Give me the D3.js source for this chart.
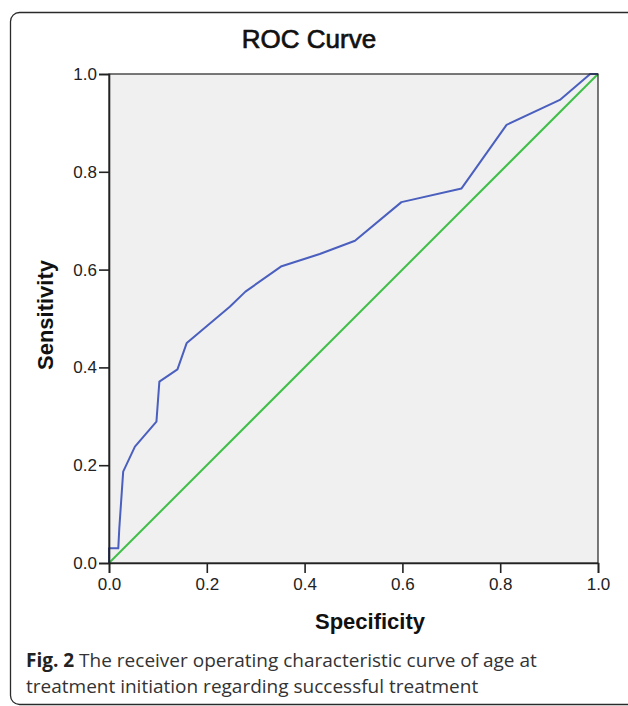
<!DOCTYPE html>
<html>
<head>
<meta charset="utf-8">
<script src="https://cdn.jsdelivr.net/npm/d3@7/dist/d3.min.js"></script>
<style>
  html, body { margin: 0; padding: 0; background: #fff; }
  svg { display: block; }
</style>
</head>
<body>
<svg id="chart" width="628" height="706"></svg>
<script>
// ---- data ----
const title = "ROC Curve";
const xLabel = "Specificity";
const yLabel = "Sensitivity";
const captionBold = "Fig. 2";
const captionLines = [
  " The receiver operating characteristic curve of age at",
  "treatment initiation regarding successful treatment"
];
const tickValues = [0, 0.2, 0.4, 0.6, 0.8, 1.0];
const rocX = [0, 0, 0.019, 0.021, 0.029, 0.053, 0.097, 0.103, 0.140, 0.159, 0.247, 0.279, 0.353, 0.431, 0.503, 0.598, 0.721, 0.813, 0.922, 0.984, 1];
const rocY = [0, 0.030, 0.030, 0.07, 0.187, 0.238, 0.289, 0.371, 0.396, 0.450, 0.524, 0.555, 0.607, 0.632, 0.659, 0.738, 0.766, 0.896, 0.947, 1.0, 1.0];
const refX = [0, 1];
const refY = [0, 1];

// ---- layout ----
const svg = d3.select("#chart");
const pL = 109, pR = 598, pT = 74, pB = 563;
const x = d3.scaleLinear().domain([0, 1]).range([pL, pR]);
const y = d3.scaleLinear().domain([0, 1]).range([pB, pT]);

// outer frame
svg.append("rect")
  .attr("x", 10.5).attr("y", 12.5)
  .attr("width", 640).attr("height", 692)
  .attr("rx", 9).attr("ry", 9)
  .attr("fill", "none").attr("stroke", "#2a2a2a").attr("stroke-width", 1.3);

// plot background
svg.append("rect")
  .attr("x", pL).attr("y", pT)
  .attr("width", pR - pL).attr("height", pB - pT)
  .attr("fill", "#f0f0f0");

// title
svg.append("text")
  .attr("x", 309).attr("y", 48)
  .attr("text-anchor", "middle")
  .attr("font-family", "Liberation Sans, Arial, sans-serif")
  .attr("font-size", 26).attr("font-weight", "normal")
  .attr("fill", "#111").attr("stroke", "#111").attr("stroke-width", 0.7)
  .text(title);

// lines
const line = d3.line().x(d => x(d[0])).y(d => y(d[1]));
svg.append("path")
  .datum(refX.map((v, i) => [v, refY[i]]))
  .attr("d", line)
  .attr("fill", "none").attr("stroke", "#3fbf48").attr("stroke-width", 2);
svg.append("path")
  .datum(rocX.map((v, i) => [v, rocY[i]]))
  .attr("d", line)
  .attr("fill", "none").attr("stroke", "#4a5fbe").attr("stroke-width", 2)
  .attr("stroke-linejoin", "round");

// plot frame
svg.append("rect")
  .attr("x", pL).attr("y", pT)
  .attr("width", pR - pL).attr("height", pB - pT)
  .attr("fill", "none").attr("stroke", "#222").attr("stroke-width", 1.2);

// axes
const fmt = d3.format(".1f");
const xAxis = svg.append("g")
  .attr("transform", `translate(0,${pB})`)
  .call(d3.axisBottom(x).tickValues(tickValues).tickFormat(fmt).tickSize(10).tickPadding(5));
const yAxis = svg.append("g")
  .attr("transform", `translate(${pL},0)`)
  .call(d3.axisLeft(y).tickValues(tickValues).tickFormat(fmt).tickSize(10).tickPadding(2));
[xAxis, yAxis].forEach(g => {
  g.attr("font-family", "Liberation Sans, Arial, sans-serif").attr("font-size", 17);
  g.select(".domain").attr("stroke", "#222").attr("stroke-width", 1.6);
  g.selectAll(".tick line").attr("stroke", "#222").attr("stroke-width", 1.6);
  g.selectAll(".tick text")
    .attr("font-family", "Liberation Sans, Arial, sans-serif")
    .attr("font-size", 17).attr("fill", "#222");
});

// axis labels
svg.append("text")
  .attr("x", 370).attr("y", 629)
  .attr("text-anchor", "middle")
  .attr("font-family", "Liberation Sans, Arial, sans-serif")
  .attr("font-size", 22).attr("font-weight", "bold").attr("fill", "#111")
  .text(xLabel);
svg.append("text")
  .attr("transform", "translate(53,315) rotate(-90)")
  .attr("text-anchor", "middle")
  .attr("font-family", "Liberation Sans, Arial, sans-serif")
  .attr("font-size", 22).attr("font-weight", "bold").attr("fill", "#111")
  .text(yLabel);

// caption
const cap = svg.append("text")
  .attr("font-family", "Open Sans, sans-serif")
  .attr("font-size", 19).attr("fill", "#333");
const l1 = cap.append("tspan").attr("x", 26).attr("y", 667);
l1.append("tspan").attr("font-weight", "bold").attr("fill", "#222").text(captionBold);
l1.append("tspan").text(captionLines[0]);
cap.append("tspan").attr("x", 26).attr("y", 693).text(captionLines[1]);
</script>
</body>
</html>
